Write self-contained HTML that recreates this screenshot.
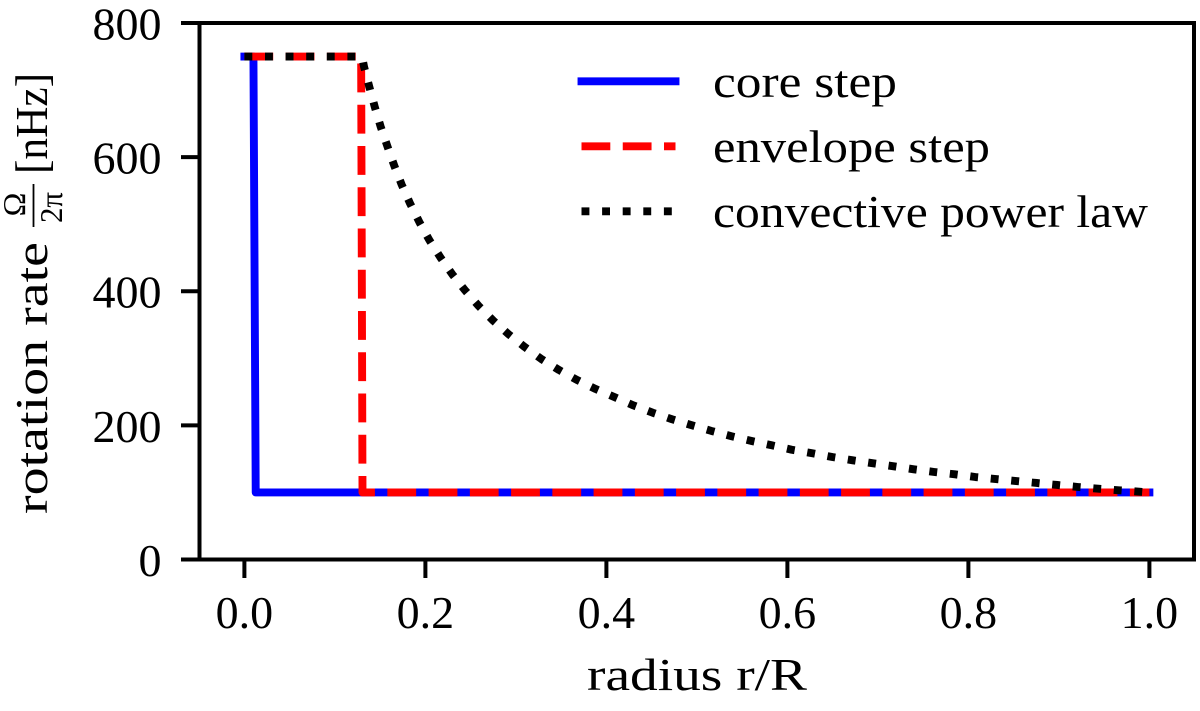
<!DOCTYPE html>
<html lang="en">
<head>
<meta charset="utf-8">
<title>Rotation rate profiles</title>
<style>
html,body{margin:0;padding:0;background:#fff;}
svg{display:block;}
text{font-family:"Liberation Serif",serif;fill:#000;}
</style>
</head>
<body>
<svg id="chart" xmlns="http://www.w3.org/2000/svg" width="1200" height="711" viewBox="0 0 1200 711">
  <rect x="0" y="0" width="1200" height="711" fill="#fff"/>
  <g id="series"></g>
  <rect x="199.5" y="23" width="994.5" height="536.5" fill="none" stroke="#000" stroke-width="4"/>
  <g id="x-ticks"></g>
  <g id="y-ticks"></g>
  <text x="587" y="690" font-size="46" textLength="220" lengthAdjust="spacingAndGlyphs">radius r/R</text>
  <g>
    <text transform="translate(47,514) rotate(-90)" font-size="46" textLength="272" lengthAdjust="spacingAndGlyphs">rotation rate</text>
    <text transform="translate(25,204.5) rotate(-90)" font-size="32" text-anchor="middle">Ω</text>
    <line x1="33.5" y1="184" x2="33.5" y2="227" stroke="#000" stroke-width="1.8"/>
    <text transform="translate(62,207.5) rotate(-90)" font-size="32" text-anchor="middle" textLength="31" lengthAdjust="spacingAndGlyphs">2π</text>
    <text transform="translate(47,174) rotate(-90)" font-size="46" textLength="101" lengthAdjust="spacingAndGlyphs">[nHz]</text>
  </g>
  <g>
    <line x1="581.5" y1="81.3" x2="675.5" y2="81.3" stroke="#0000ff" stroke-width="7.9" stroke-linecap="square"/>
    <text x="713" y="97" font-size="46" textLength="184" lengthAdjust="spacingAndGlyphs">core step</text>
    <line x1="581.5" y1="146.3" x2="675.5" y2="146.3" stroke="#ff0000" stroke-width="7.9" stroke-dasharray="28.8 12.45"/>
    <text x="713" y="162" font-size="46" textLength="277" lengthAdjust="spacingAndGlyphs">envelope step</text>
    <line x1="581.5" y1="211.3" x2="675.5" y2="211.3" stroke="#000" stroke-width="7.9" stroke-dasharray="7.9 12.7"/>
    <text x="713" y="227" font-size="46" textLength="435" lengthAdjust="spacingAndGlyphs">convective power law</text>
  </g>
</svg>
<script>
const xTickValues = [0, 0.2, 0.4, 0.6, 0.8, 1.0];
const xTickLabels = ["0.0", "0.2", "0.4", "0.6", "0.8", "1.0"];
const yTickValues = [0, 200, 400, 600, 800];
const yTickLabels = ["0", "200", "400", "600", "800"];

const coreRadius = [0, 0.01, 0.0125, 1];
const coreRate = [750, 750, 100, 100];

const envelopeRadius = [0, 0.129, 0.1305, 1];
const envelopeRate = [750, 750, 100, 100];

const convectiveRadius = [0, 0.13, 0.1322, 0.138, 0.144, 0.1506, 0.1579, 0.1656, 0.1738, 0.183, 0.1933, 0.2043, 0.2165, 0.2297, 0.2438, 0.2589, 0.275, 0.292, 0.3097, 0.3281, 0.3476, 0.3675, 0.3882, 0.4087, 0.4297, 0.4512, 0.4725, 0.4946, 0.5163, 0.5385, 0.5605, 0.5826, 0.6048, 0.6275, 0.6496, 0.6722, 0.6949, 0.7175, 0.7396, 0.7623, 0.7852, 0.8076, 0.8305, 0.8529, 0.8755, 0.8982, 0.9211, 0.9435, 0.9664, 0.9888, 1];
const convectiveRate = [750, 750, 734.8, 705, 675.2, 645.3, 616.6, 587.2, 558.9, 531.1, 503.2, 476.4, 450.6, 425.3, 401.4, 378, 356.1, 335.8, 316.9, 299, 282.6, 267.7, 254.2, 242.3, 229.9, 218.9, 209.1, 200.1, 191.6, 183.7, 176.7, 170.3, 163.7, 158.4, 152.8, 147.9, 143.4, 139, 134.5, 130.5, 127, 123, 120, 117, 114.1, 111.1, 108.1, 105.6, 103.2, 101.1, 100];

const svgNS = "http://www.w3.org/2000/svg";
const seriesGroup = document.getElementById("series");
const xTicksGroup = document.getElementById("x-ticks");
const yTicksGroup = document.getElementById("y-ticks");

function xScale(v) { return 244.4 + v * 905; }
function yScale(v) { return 559.5 - v * 0.67063; }

function pathFrom(xs, ys) {
  return xs.map(function (x, i) {
    return (i ? "L" : "M") + xScale(x).toFixed(2) + " " + yScale(ys[i]).toFixed(2);
  }).join(" ");
}

function make(tag, attrs, parent) {
  const el = document.createElementNS(svgNS, tag);
  Object.keys(attrs).forEach(function (k) { el.setAttribute(k, attrs[k]); });
  parent.appendChild(el);
  return el;
}

const coreLine = make("path", { d: pathFrom(coreRadius, coreRate), fill: "none", stroke: "#0000ff", "stroke-width": 7.9, "stroke-linecap": "square", "stroke-linejoin": "round" }, seriesGroup);



const envelopeLine = make("path", { d: pathFrom(envelopeRadius, envelopeRate), fill: "none", stroke: "#ff0000", "stroke-width": 7.9, "stroke-dasharray": "28.8 12.45", "stroke-linejoin": "round" }, seriesGroup);



const convectiveLine = make("path", { d: pathFrom(convectiveRadius, convectiveRate), fill: "none", stroke: "#000", "stroke-width": 7.9, "stroke-dasharray": "7.9 12.7", "stroke-linejoin": "round" }, seriesGroup);



xTickValues.forEach(function (v, i) {
  const px = xScale(v);
  const mark = make("line", { x1: px, x2: px, y1: 559.5, y2: 578, stroke: "#000", "stroke-width": 4 }, xTicksGroup);
  
  
  const label = make("text", { x: px, y: 628, "font-size": 46, "text-anchor": "middle" }, xTicksGroup);
  
  
  label.textContent = xTickLabels[i];
});

yTickValues.forEach(function (v, i) {
  const py = yScale(v);
  const mark = make("line", { x1: 181, x2: 199.5, y1: py, y2: py, stroke: "#000", "stroke-width": 4 }, yTicksGroup);
  
  
  const label = make("text", { x: 161.5, y: py + 16.5, "font-size": 46, "text-anchor": "end" }, yTicksGroup);
  
  
  label.textContent = yTickLabels[i];
});
</script>
</body>
</html>
